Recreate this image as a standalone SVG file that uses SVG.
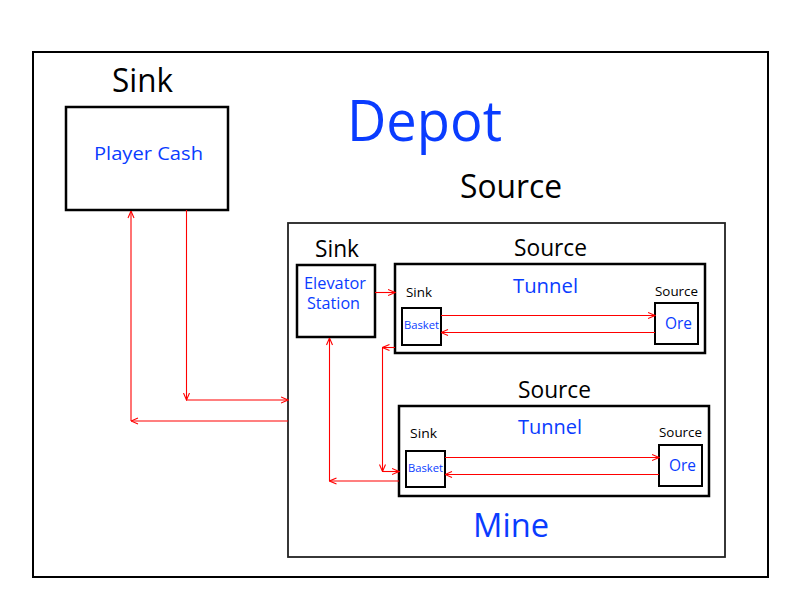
<svg xmlns="http://www.w3.org/2000/svg" width="800" height="600" viewBox="0 0 800 600">
<defs>
<marker id="ah" viewBox="0 0 8 8" refX="7.5" refY="4" markerWidth="8" markerHeight="8" markerUnits="userSpaceOnUse" orient="auto">
<path d="M0.5,1 L7.5,4 L0.5,7" fill="none" stroke="#ff0000" stroke-width="1.1"/>
</marker>
<style>
text{font-family:"Open Sans","Noto Sans","Liberation Sans",sans-serif;}
.k{fill:#000000;}
.b{fill:#0a3cff;}
.box{fill:#ffffff;stroke:#000000;stroke-width:2.5;}
.sm{fill:#ffffff;stroke:#000000;stroke-width:2;}
.c{fill:none;stroke:#ff0000;stroke-width:1.1;marker-end:url(#ah);}
</style>
</defs>
<rect width="800" height="600" fill="#ffffff"/>
<g id="depot">
<rect x="33" y="52" width="735" height="525" fill="none" stroke="#000000" stroke-width="2"/>
<text class="b" x="347" y="141" font-size="56" textLength="155" lengthAdjust="spacingAndGlyphs">Depot</text>
<text class="k" x="460" y="198" font-size="32" textLength="102" lengthAdjust="spacingAndGlyphs">Source</text>
</g>
<g id="player-cash">
<text class="k" x="112" y="92" font-size="32" textLength="61" lengthAdjust="spacingAndGlyphs">Sink</text>
<rect class="box" x="66" y="107" width="162" height="103"/>
<text class="b" x="94" y="160" font-size="18" textLength="109" lengthAdjust="spacingAndGlyphs">Player Cash</text>
</g>
<g id="mine">
<rect x="288" y="223" width="437" height="334" fill="none" stroke="#222222" stroke-width="1.8"/>
<text class="b" x="473" y="537" font-size="32" textLength="76" lengthAdjust="spacingAndGlyphs">Mine</text>
</g>
<g id="elevator-station">
<text class="k" x="315" y="257" font-size="23" textLength="44" lengthAdjust="spacingAndGlyphs">Sink</text>
<rect class="box" x="297" y="265" width="78" height="72"/>
<text class="b" x="304" y="289" font-size="16" textLength="62" lengthAdjust="spacingAndGlyphs">Elevator</text>
<text class="b" x="307" y="309" font-size="16" textLength="53" lengthAdjust="spacingAndGlyphs">Station</text>
</g>
<g id="tunnel1">
<text class="k" x="514" y="256" font-size="23" textLength="73" lengthAdjust="spacingAndGlyphs">Source</text>
<rect class="box" x="395" y="264" width="310" height="89"/>
<text class="b" x="513" y="293" font-size="20" textLength="65" lengthAdjust="spacingAndGlyphs">Tunnel</text>
</g>
<g id="basket1">
<text class="k" x="406" y="297" font-size="13.5" textLength="26" lengthAdjust="spacingAndGlyphs">Sink</text>
<rect class="sm" x="402" y="308" width="39" height="37"/>
<text class="b" x="404" y="329" font-size="11" textLength="35" lengthAdjust="spacingAndGlyphs">Basket</text>
</g>
<g id="ore1">
<text class="k" x="655" y="296" font-size="13.5" textLength="43" lengthAdjust="spacingAndGlyphs">Source</text>
<rect class="sm" x="655" y="303" width="43" height="41"/>
<text class="b" x="665" y="329" font-size="17" textLength="27" lengthAdjust="spacingAndGlyphs">Ore</text>
</g>
<g id="tunnel2">
<text class="k" x="518" y="398" font-size="23" textLength="73" lengthAdjust="spacingAndGlyphs">Source</text>
<rect class="box" x="399" y="406" width="310" height="90"/>
<text class="b" x="518" y="434" font-size="20" textLength="64" lengthAdjust="spacingAndGlyphs">Tunnel</text>
</g>
<g id="basket2">
<text class="k" x="410" y="438" font-size="13.5" textLength="27" lengthAdjust="spacingAndGlyphs">Sink</text>
<rect class="sm" x="406" y="451" width="39" height="36"/>
<text class="b" x="408" y="472" font-size="11" textLength="35" lengthAdjust="spacingAndGlyphs">Basket</text>
</g>
<g id="ore2">
<text class="k" x="659" y="437" font-size="13.5" textLength="43" lengthAdjust="spacingAndGlyphs">Source</text>
<rect class="sm" x="659" y="445" width="43" height="41"/>
<text class="b" x="669" y="471" font-size="17" textLength="27" lengthAdjust="spacingAndGlyphs">Ore</text>
</g>
<g id="connectors">
<path class="c" d="M186.5,210 L186.5,400"/>
<path class="c" d="M186.5,400 L288,400"/>
<path class="c" d="M288,421 L131,421"/>
<path class="c" d="M131,421 L131,211"/>
<path class="c" d="M375,292.5 L395,292.5"/>
<path class="c" d="M395,347.5 L382.5,347.5"/>
<path class="c" d="M382.5,347.5 L382.5,471.5"/>
<path class="c" d="M382.5,471.5 L399,471.5"/>
<path class="c" d="M399,481 L329.5,481"/>
<path class="c" d="M329.5,481 L329.5,338"/>
<path class="c" d="M441,315.5 L655,315.5"/>
<path class="c" d="M655,332.5 L441,332.5"/>
<path class="c" d="M445,457.5 L659,457.5"/>
<path class="c" d="M659,474.5 L445,474.5"/>
</g>
</svg>
